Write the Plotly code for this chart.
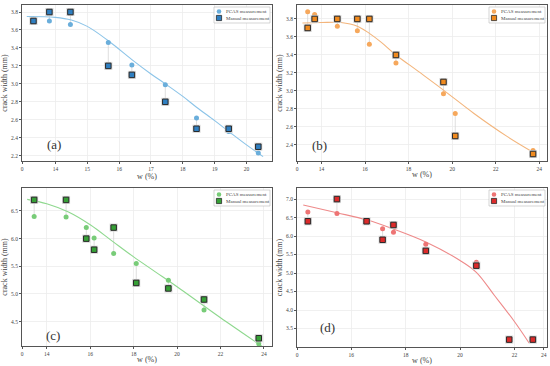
import plotly.graph_objects as go

# ---------------- data ----------------
# (a)
a_w = [13.31, 13.81, 14.47, 15.66, 16.40, 17.45, 18.43, 19.44, 20.37]
a_pcas = [3.72, 3.70, 3.66, 3.46, 3.21, 2.99, 2.62, 2.47, 2.23]
a_manual = [3.70, 3.80, 3.80, 3.20, 3.10, 2.80, 2.50, 2.50, 2.30]
a_fit_w = [13.1, 14.0, 14.5, 15.0, 15.66, 16.4, 17.0, 17.45, 18.0, 18.43, 19.0, 19.44, 20.0, 20.52]
a_fit_y = [3.75, 3.74, 3.71, 3.64, 3.48, 3.27, 3.11, 3.00, 2.86, 2.74, 2.59, 2.47, 2.32, 2.19]

# (b)
b_w = [13.37, 13.69, 14.73, 15.65, 16.20, 17.42, 19.60, 20.14, 23.71]
b_pcas = [3.88, 3.85, 3.72, 3.67, 3.52, 3.31, 2.97, 2.75, 2.34]
b_manual = [3.70, 3.80, 3.80, 3.80, 3.80, 3.40, 3.10, 2.50, 2.30]
b_fit_w = [13.13, 14.0, 14.9, 15.65, 16.2, 16.75, 17.42, 18.43, 19.6, 21.0, 22.55, 23.71]
b_fit_y = [3.755, 3.76, 3.76, 3.72, 3.64, 3.54, 3.40, 3.22, 3.01, 2.75, 2.49, 2.32]

# (c)
c_w = [13.42, 14.89, 15.82, 16.18, 17.08, 18.12, 19.60, 21.24, 23.76]
c_pcas = [6.40, 6.39, 6.20, 6.01, 5.73, 5.55, 5.25, 4.71, 4.10]
c_manual = [6.70, 6.70, 6.00, 5.80, 6.20, 5.20, 5.10, 4.90, 4.20]
c_fit_w = [13.1, 14.0, 15.0, 16.0, 17.0, 18.0, 19.0, 20.0, 21.0, 22.0, 23.0, 24.0]
c_fit_y = [6.71, 6.63, 6.48, 6.25, 5.96, 5.67, 5.40, 5.13, 4.85, 4.57, 4.30, 4.03]

# (d)
d_w = [14.40, 15.47, 16.56, 17.15, 17.55, 18.74, 20.60, 21.81, 22.68]
d_pcas = [6.65, 6.61, 6.42, 6.20, 6.10, 5.78, 5.29, 3.20, 3.20]
d_manual = [6.40, 7.00, 6.40, 5.90, 6.30, 5.60, 5.20, 3.20, 3.20]
d_fit_w = [14.23, 15.47, 16.56, 17.55, 18.74, 20.0, 20.6, 21.26, 22.0, 22.54]
d_fit_y = [6.84, 6.63, 6.44, 6.19, 5.84, 5.34, 5.02, 4.40, 3.69, 3.11]

panel_labels = ["(a)", "(b)", "(c)", "(d)"]
legend_names = ["PCAS measurement", "Manual measurement"]

# ---------------- styling ----------------
FONT = "Liberation Serif"
panels = [
    dict(w=a_w, p=a_pcas, m=a_manual, fw=a_fit_w, fy=a_fit_y,
         cc="#6aaedb", sc="#2f7fc1", lc="#8cc4e8",
         xr=[12.95, 20.8], xt=[12.95, 14, 15, 16, 17, 18, 19, 20],
         xtt=["0", "14", "15", "16", "17", "18", "19", "20"],
         yr=[2.141, 3.878], yt=[2.2, 2.4, 2.6, 2.8, 3.0, 3.2, 3.4, 3.6, 3.8],
         lab=(13.94, 2.32), dom=([22, 272], [5, 161])),
    dict(w=b_w, p=b_pcas, m=b_manual, fw=b_fit_w, fy=b_fit_y,
         cc="#f6a85c", sc="#f08a1e", lc="#f3b57c",
         xr=[12.88, 24.35], xt=[12.88, 14, 16, 18, 20, 22, 24],
         xtt=["0", "14", "16", "18", "20", "22", "24"],
         yr=[2.222, 3.955], yt=[2.4, 2.6, 2.8, 3.0, 3.2, 3.4, 3.6, 3.8],
         lab=(13.92, 2.39), dom=([297, 547], [5, 161])),
    dict(w=c_w, p=c_pcas, m=c_manual, fw=c_fit_w, fy=c_fit_y,
         cc="#78cc78", sc="#36a036", lc="#8ed88e",
         xr=[12.86, 24.37], xt=[12.86, 14, 16, 18, 20, 22, 24],
         xtt=["0", "14", "16", "18", "20", "22", "24"],
         yr=[4.06, 6.915], yt=[4.5, 5.0, 5.5, 6.0, 6.5],
         lab=(14.3, 4.25), dom=([22, 272], [188, 346])),
    dict(w=d_w, p=d_pcas, m=d_manual, fw=d_fit_w, fy=d_fit_y,
         cc="#ee7474", sc="#dc2a2a", lc="#ee8a8a",
         xr=[14.0, 23.2], xt=[14, 16, 18, 20, 22, 23.08],
         xtt=["0", "16", "18", "20", "22", "24"],
         yr=[3.0, 7.3], yt=[3.5, 4.0, 4.5, 5.0, 5.5, 6.0, 6.5, 7.0],
         lab=(15.12, 3.54), dom=([297, 547], [188, 347])),
]

W, H = 550, 366
fig = go.Figure()
layout = dict(width=W, height=H, margin=dict(l=0, r=0, t=0, b=0),
              plot_bgcolor="white", paper_bgcolor="white", showlegend=False,
              hovermode=False,
              font=dict(family=FONT, color="#333"))
annotations = []
shapes = []


def px(x):
    return x / W


def py(y):
    return 1 - y / H


for i, pn in enumerate(panels):
    k = "" if i == 0 else str(i + 1)
    xa, ya = "x" + k, "y" + k
    # residual connectors
    cx, cy = [], []
    for w, p, m in zip(pn["w"], pn["p"], pn["m"]):
        cx += [w, w, None]
        cy += [p, m, None]
    fig.add_trace(go.Scatter(x=cx, y=cy, mode="lines", xaxis=xa, yaxis=ya,
                             line=dict(color="#d6d6d6", width=0.8),
                             hoverinfo="skip"))
    # fitted curve
    fig.add_trace(go.Scatter(x=pn["fw"], y=pn["fy"], mode="lines", xaxis=xa, yaxis=ya,
                             line=dict(color=pn["lc"], width=1.1, shape="spline")))
    # PCAS circles
    fig.add_trace(go.Scatter(x=pn["w"], y=pn["p"], mode="markers", xaxis=xa, yaxis=ya,
                             name=legend_names[0],
                             marker=dict(symbol="circle", size=5, color=pn["cc"],
                                         line=dict(width=0))))
    # square halo
    fig.add_trace(go.Scatter(x=pn["w"], y=pn["m"], mode="markers", xaxis=xa, yaxis=ya,
                             hoverinfo="skip",
                             marker=dict(symbol="square", size=8, color="#d4d4d4",
                                         line=dict(width=0))))
    # manual squares
    fig.add_trace(go.Scatter(x=pn["w"], y=pn["m"], mode="markers", xaxis=xa, yaxis=ya,
                             name=legend_names[1],
                             marker=dict(symbol="square", size=5.5, color=pn["sc"],
                                         line=dict(width=1, color="#2a2a2a"))))
    (x0, x1), (y0, y1) = pn["dom"]
    xdom = [x0 / W, x1 / W]
    ydom = [1 - y1 / H, 1 - y0 / H]
    axis_common = dict(showgrid=True, gridcolor="#ececec", gridwidth=0.8,
                       zeroline=False, showline=True, linecolor="#555",
                       linewidth=1, mirror=True, ticks="outside",
                       ticklen=2, tickcolor="#555",
                       tickfont=dict(size=5.5, family=FONT, color="#444"))
    layout["xaxis" + k] = dict(domain=xdom, range=pn["xr"], anchor=ya,
                               tickvals=pn["xt"], ticktext=pn["xtt"],
                               title=dict(text="w (%)", standoff=0,
                                          font=dict(size=8, family=FONT, color="#444")),
                               **axis_common)
    layout["yaxis" + k] = dict(domain=ydom, range=pn["yr"], anchor=xa,
                               tickvals=pn["yt"], tickformat=".1f",
                               title=dict(text="crack width (mm)", standoff=2,
                                          font=dict(size=8, family=FONT, color="#444")),
                               **axis_common)
    # legend box (drawn in pixel space of the panel)
    lx1 = x1 - 2
    lx0 = lx1 - 56
    ly0 = y0 + 2
    ly1 = ly0 + 16
    shapes.append(dict(type="rect", xref="paper", yref="paper",
                       x0=px(lx0), x1=px(lx1), y0=py(ly1), y1=py(ly0),
                       line=dict(color="#bbb", width=0.6), fillcolor="white", layer="above"))
    rows = [ly0 + 4.5, ly0 + 11]
    mx = lx0 + 5
    shapes.append(dict(type="circle", xref="paper", yref="paper",
                       x0=px(mx - 2.3), x1=px(mx + 2.3), y0=py(rows[0] + 2.3), y1=py(rows[0] - 2.3),
                       line=dict(width=0), fillcolor=pn["cc"], layer="above"))
    shapes.append(dict(type="rect", xref="paper", yref="paper",
                       x0=px(mx - 2.6), x1=px(mx + 2.6), y0=py(rows[1] + 2.6), y1=py(rows[1] - 2.6),
                       line=dict(width=0.8, color="#2a2a2a"), fillcolor=pn["sc"], layer="above"))
    for r, name in zip(rows, legend_names):
        annotations.append(dict(x=px(mx + 4.5), y=py(r), xref="paper", yref="paper",
                                xanchor="left", yanchor="middle", text=name, showarrow=False,
                                font=dict(size=5, family=FONT, color="#444")))
    annotations.append(dict(x=pn["lab"][0], y=pn["lab"][1], xref=xa, yref=ya,
                            text=panel_labels[i], showarrow=False,
                            font=dict(size=13, family=FONT, color="#333")))

layout["annotations"] = annotations
layout["shapes"] = shapes
fig.update_layout(**layout)
fig.write_html("out.html",
               config={"displayModeBar": False, "staticPlot": True},
               post_script="document.body.style.margin='0';document.body.style.overflow='hidden';")
